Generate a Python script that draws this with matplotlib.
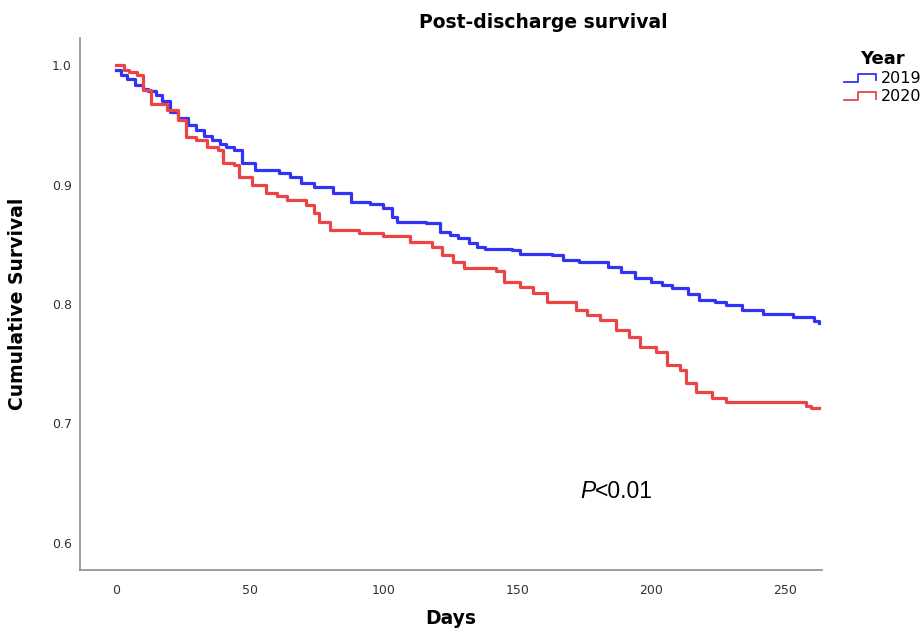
import matplotlib
matplotlib.use('Agg')
import matplotlib.pyplot as plt
from matplotlib.lines import Line2D
from matplotlib.legend_handler import HandlerBase

# Kaplan-Meier curves
days_2019 = [0, 2, 4, 7, 10, 12, 15, 17, 20, 23, 27, 30, 33, 36, 39, 41, 44, 47, 52, 61,
             65, 69, 74, 81, 88, 95, 100, 103, 105, 116, 121, 125, 128, 132, 135, 138, 148,
             151, 163, 167, 173, 184, 189, 194, 200, 204, 208, 214, 218, 224, 228, 234, 242,
             253, 261, 263]
surv_2019 = [0.996, 0.992, 0.988, 0.983, 0.980, 0.978, 0.975, 0.970, 0.961, 0.956,
             0.950, 0.946, 0.941, 0.937, 0.934, 0.931, 0.929, 0.918, 0.912, 0.910,
             0.906, 0.901, 0.898, 0.893, 0.885, 0.884, 0.880, 0.873, 0.869, 0.868,
             0.860, 0.858, 0.855, 0.851, 0.848, 0.846, 0.845, 0.842, 0.841, 0.837,
             0.835, 0.831, 0.827, 0.822, 0.818, 0.816, 0.813, 0.808, 0.803, 0.802,
             0.799, 0.795, 0.792, 0.789, 0.786, 0.784]

days_2020 = [0, 3, 5, 8, 10, 13, 19, 23, 26, 30, 34, 38, 40, 44, 46, 51, 56, 60, 64, 71,
             74, 76, 80, 91, 100, 110, 118, 122, 126, 130, 142, 145, 151, 156, 161, 172,
             176, 181, 187, 192, 196, 202, 206, 211, 213, 217, 223, 228, 258, 260, 263]
surv_2020 = [1.0, 0.996, 0.994, 0.992, 0.979, 0.967, 0.962, 0.954, 0.940, 0.937,
             0.931, 0.929, 0.918, 0.916, 0.906, 0.900, 0.893, 0.890, 0.887, 0.883,
             0.876, 0.869, 0.862, 0.859, 0.857, 0.852, 0.848, 0.841, 0.835, 0.830,
             0.828, 0.818, 0.814, 0.809, 0.802, 0.795, 0.791, 0.787, 0.778, 0.772,
             0.764, 0.760, 0.749, 0.745, 0.734, 0.726, 0.721, 0.718, 0.715, 0.713,
             0.713]

x_ticks = [0, 50, 100, 150, 200, 250]
y_ticks = [0.6, 0.7, 0.8, 0.9, 1.0]

blue = '#3333f5'
red = '#ec4444'


class StepHandler(HandlerBase):
    # small step glyph like the SPSS legend
    def create_artists(self, legend, orig_handle, xdescent, ydescent,
                       width, height, fontsize, trans):
        x0 = -xdescent
        lo = -ydescent + 0.15 * height
        hi = -ydescent + 0.85 * height
        xs = [x0, x0 + 0.45 * width, x0 + 0.45 * width, x0 + width, x0 + width]
        ys = [lo, lo, hi, hi, lo + 0.1 * height]
        ln = Line2D(xs, ys, color=orig_handle.get_color(), lw=1.3, transform=trans)
        return [ln]


fig = plt.figure(figsize=(9.21, 6.31), dpi=100)
ax = fig.add_axes([80 / 921, 1 - 570 / 631, 742 / 921, 532 / 631])

l1, = ax.step(days_2019, surv_2019, where='post', color=blue, lw=2.3)
l2, = ax.step(days_2020, surv_2020, where='post', color=red, lw=2.3)

ax.set_xlim(-13.5, 264)
ax.set_ylim(0.5774, 1.0226)
ax.set_xticks(x_ticks)
ax.set_yticks(y_ticks)
ax.set_xticklabels([str(t) for t in x_ticks])
ax.set_yticklabels(['%.1f' % t for t in y_ticks])
ax.tick_params(length=0, labelsize=9, colors='#333333')
ax.tick_params(axis='x', pad=10)
ax.tick_params(axis='y', pad=6)

for s in ['top', 'right']:
    ax.spines[s].set_visible(False)
for s in ['left', 'bottom']:
    ax.spines[s].set_color('#8c8c8c')
    ax.spines[s].set_linewidth(1.2)

ax.set_xlabel('Days', fontsize=13.5, fontweight='bold')
ax.set_ylabel('Cumulative Survival', fontsize=13.5, fontweight='bold')
ax.xaxis.set_label_coords(0.5, -0.074)
ax.yaxis.set_label_coords(-0.071, 0.5)

fig.text(543 / 921, 1 - 22 / 631, 'Post-discharge survival', ha='center', va='center',
         fontsize=13.5, fontweight='bold')

# P value annotation
tp = ax.text(173.5, 0.643, 'P', fontsize=16.5, fontstyle='italic', family='Liberation Sans',
             va='center', ha='left')
ax.annotate('<0.01', xy=(1, 0), xycoords=tp, va='bottom', ha='left',
            fontsize=16.5, family='Liberation Sans')

leg = fig.legend([l1, l2], ['2019', '2020'], title='Year', loc='upper left',
                 bbox_to_anchor=(836 / 921, 1 - 42 / 631), frameon=False,
                 handler_map={Line2D: StepHandler()}, handlelength=2.0,
                 handletextpad=0.3, labelspacing=0.2, borderpad=0,
                 fontsize=11.5, title_fontproperties={'weight': 'bold', 'size': 13})

fig.savefig('out.png', dpi=100)
